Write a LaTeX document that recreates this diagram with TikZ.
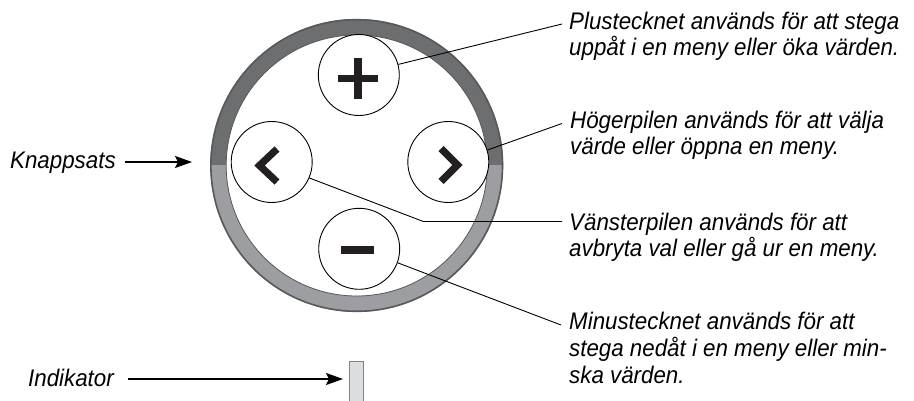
\documentclass[tikz,border=0pt]{standalone}
\usepackage{fontspec}
\setmainfont{Liberation Sans}
\newfontfamily\calloutfont[FakeStretch=0.93]{Liberation Sans}
\usetikzlibrary{arrows.meta}
\definecolor{ringtop}{HTML}{6D6E70}
\definecolor{ringbot}{HTML}{9D9EA1}
\definecolor{ringedge}{HTML}{58595B}
\definecolor{glyph}{HTML}{231F20}
\definecolor{indfill}{HTML}{DCDDDE}
\definecolor{indedge}{HTML}{808285}
\tikzset{
  label text/.style={font=\calloutfont\fontsize{24}{26.7}\selectfont\itshape, inner sep=0pt, align=left, anchor=base west},
  keybtn/.style={circle, draw=black, line width=0.9pt, fill=white, minimum size=81pt, inner sep=0pt},
  glyphline/.style={draw=glyph, line width=7.2pt},
  leader/.style={draw=black, line width=0.9pt},
  pointer/.style={draw=black, line width=2pt, -{Stealth[length=17pt,width=12pt,inset=3pt]}},
}
\begin{document}
\begin{tikzpicture}[x=1pt,y=-1pt]
\useasboundingbox (0,0) rectangle (914,401);

% outer ring of the keypad, dark upper half and light lower half
\coordinate (hub) at (356.7,165.5);
\begin{scope}
  \clip (0,0) rectangle (914,165.5);
  \fill[ringtop,even odd rule] (hub) circle[radius=146.5] (hub) circle[radius=130.5];
\end{scope}
\begin{scope}
  \clip (0,165.5) rectangle (914,401);
  \fill[ringbot,even odd rule] (hub) circle[radius=146.5] (hub) circle[radius=130.5];
\end{scope}
\draw[ringedge,line width=1.6pt] (hub) circle[radius=145.8];
\draw[ringedge,line width=0.8pt] (hub) circle[radius=130.5];

% the four keys
\node[keybtn] (kplus)  at (358.8,75)  {};
\node[keybtn] (kleft)  at (271.7,162) {};
\node[keybtn] (kright) at (448.3,162) {};
\node[keybtn] (kminus) at (359.2,248.8) {};

% key symbols
\draw[glyphline] (337.7,78.8) -- (378.3,78.8);
\draw[glyphline] (358,58.3) -- (358,99.2);
\draw[glyphline] (341,250) -- (374.3,250);
\draw[glyphline,miter limit=10] (277,149) -- (259.5,165.5) -- (277,182);
\draw[glyphline,miter limit=10] (441,148.5) -- (457.5,165) -- (441,181.5);

% descriptions (anchored at the baseline of their last line)
\node[label text] (tplus)  at (569,56)  {Plustecknet används för att stega\\uppåt i en meny eller öka värden.};
\node[label text] (tright) at (570,155) {Högerpilen används för att välja\\värde eller öppna en meny.};
\node[label text] (tleft)  at (569,257) {Vänsterpilen används för att\\avbryta val eller gå ur en meny.};
\node[label text] (tminus) at (569,383) {Minustecknet används för att\\stega nedåt i en meny eller min-\\ska värden.};

\coordinate (eplus)  at (562,24);
\coordinate (eright) at (562,123.5);
\coordinate (eleft)  at (562,221.5);
\coordinate (bend)   at (423.3,221.5);
\coordinate (eminus) at (561,325);

\draw[leader] (kplus.15) -- (eplus);
\draw[leader] (kright.17) -- (eright);
\draw[leader] (kleft.-23) -- (bend) -- (eleft);
\draw[leader] (kminus.-20) -- (eminus);

% keypad and indicator callouts
\node[label text] (tkeys) at (10,169) {Knappsats};
\node[label text] (tind)  at (28,386) {Indikator};
\coordinate (pkeys) at (192,162);
\coordinate (pind)  at (343,379);
\draw[pointer] (tkeys.east |- pkeys) ++(9,0) -- (pkeys);
\draw[pointer] (tind.east |- pind) ++(14,0) -- (pind);

% indicator lamp
\node[draw=indedge, fill=indfill, line width=1pt, minimum width=14pt, minimum height=50pt, inner sep=0pt, anchor=north west] (lamp) at (349,361) {};
\end{tikzpicture}
\end{document}
